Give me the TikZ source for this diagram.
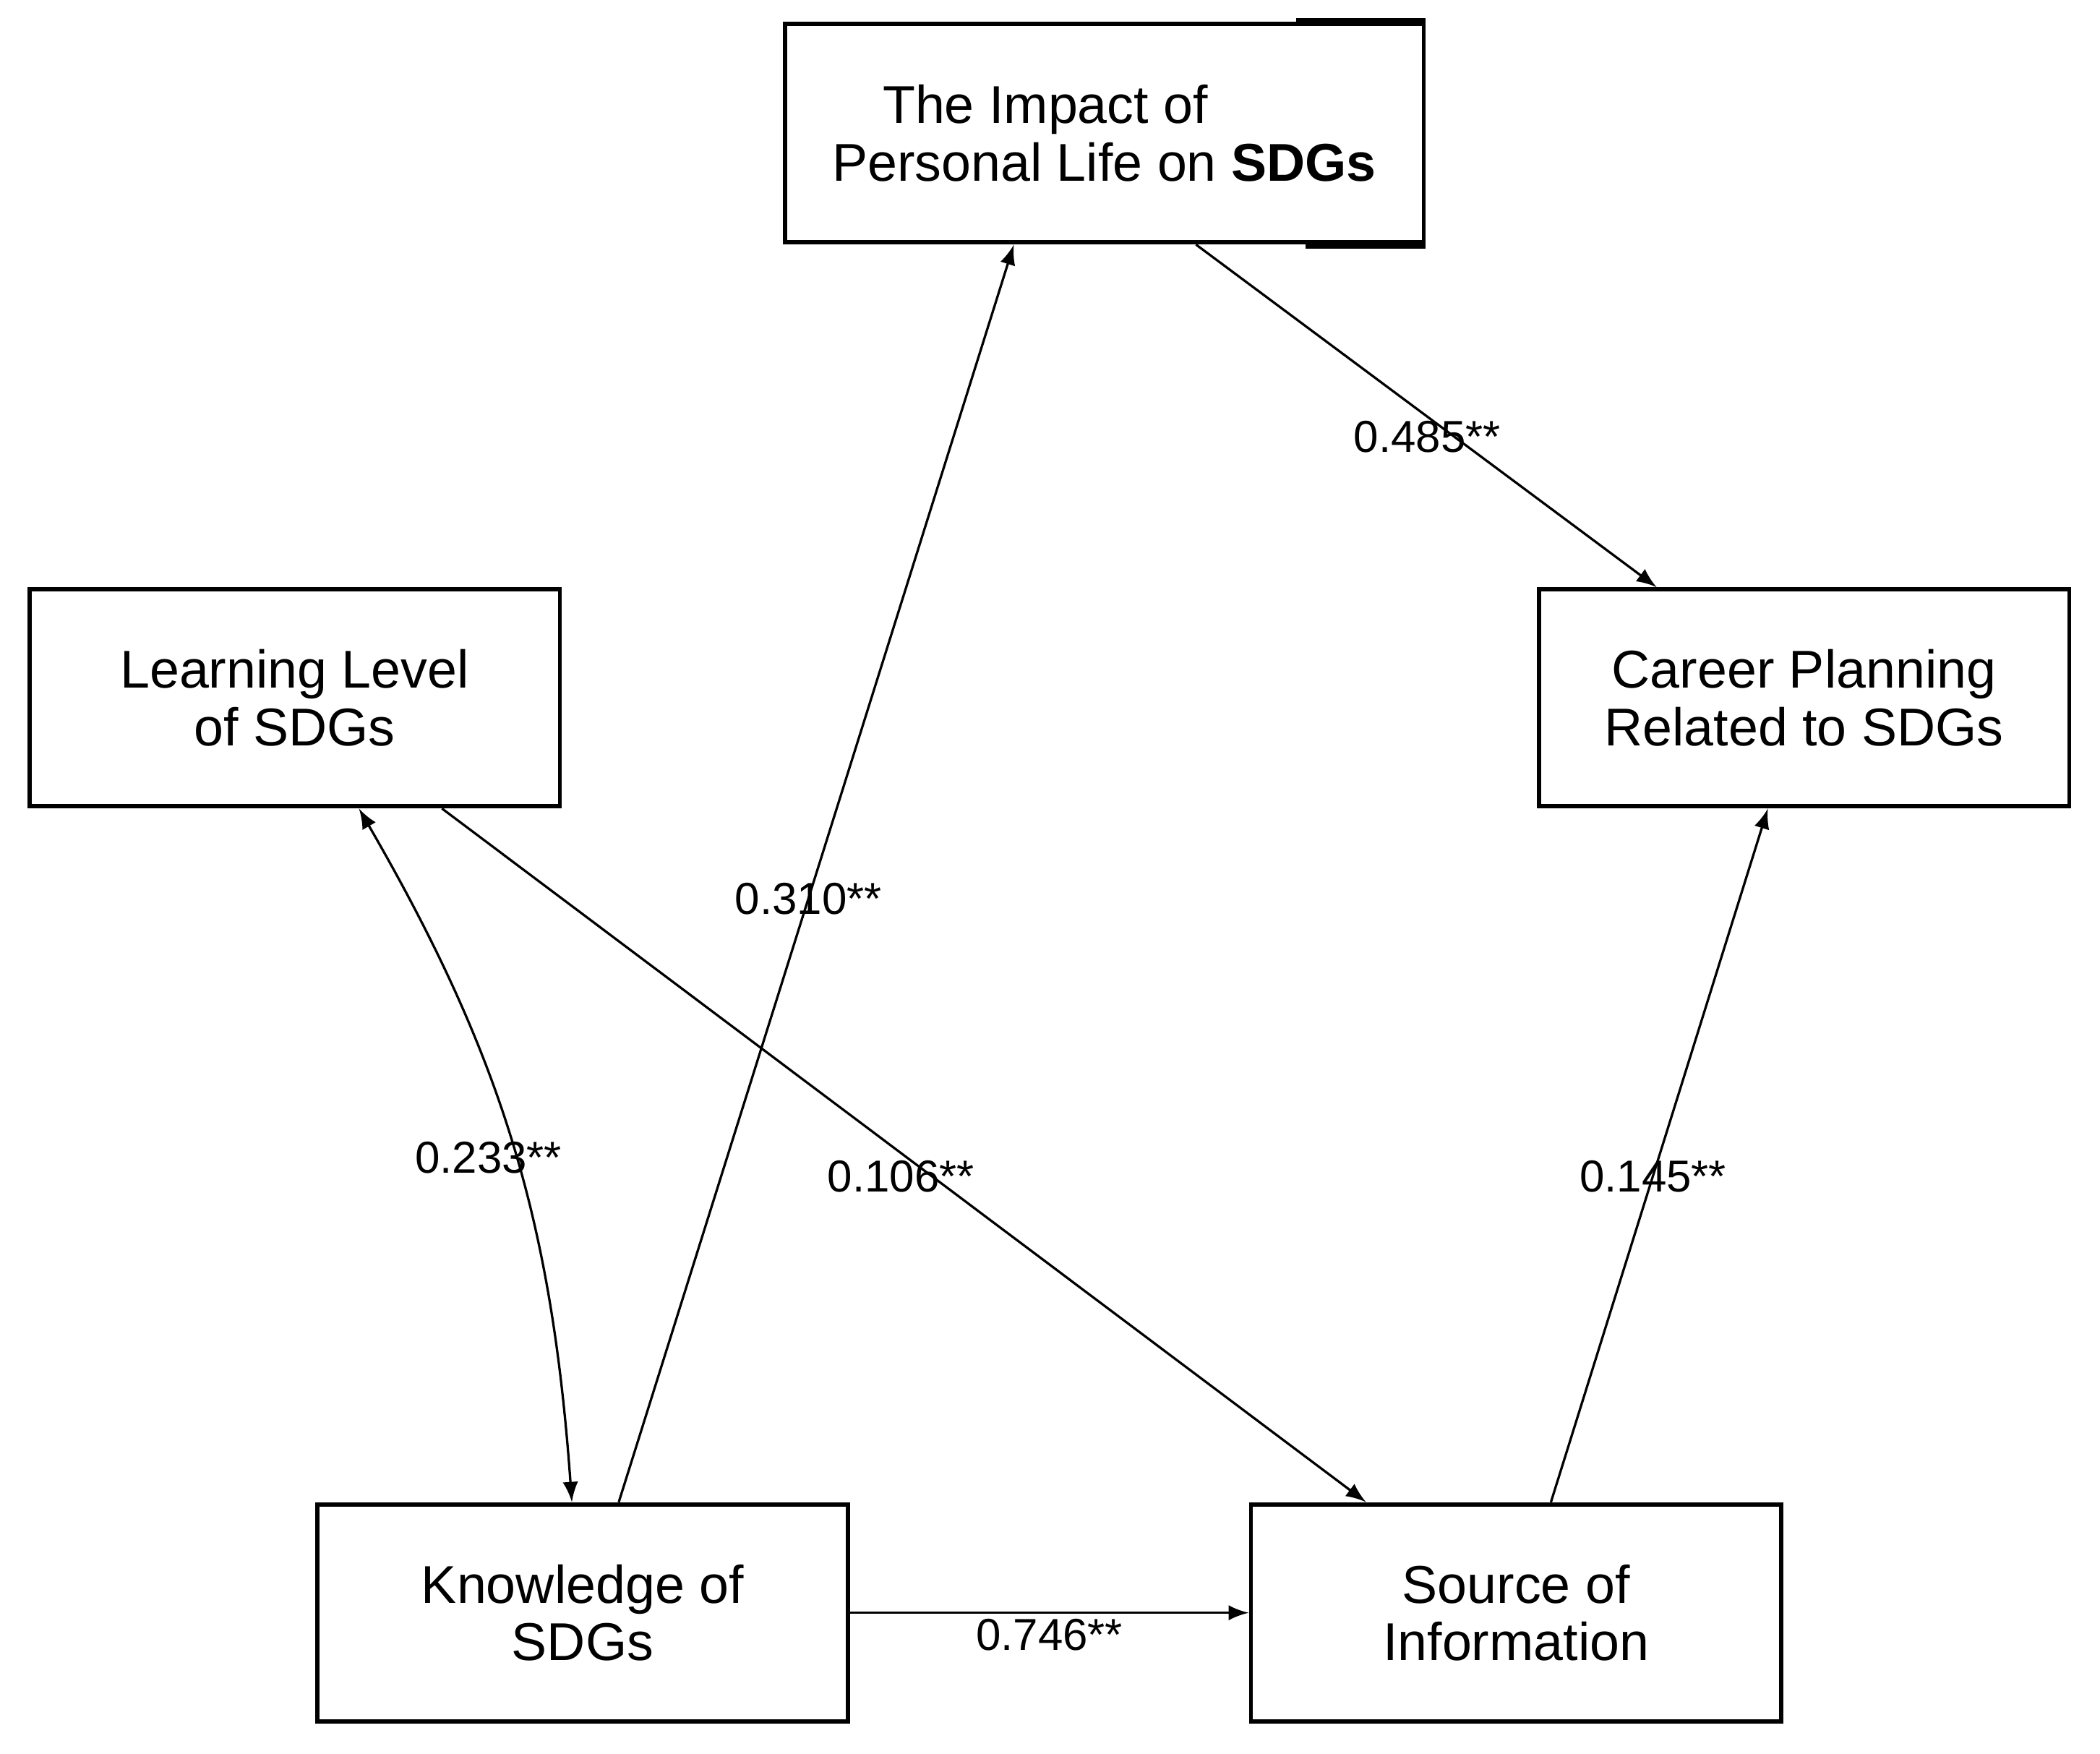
\documentclass[tikz,border=0pt]{standalone}
\usepackage{fontspec}
\setmainfont{Liberation Sans}
\usepackage{tikz}

\begin{document}
\begin{tikzpicture}[>=latex, line width=0.5pt,
    box/.style={draw, line width=0.9pt, minimum width=3.96cm, minimum height=1.62cm, align=center, font=\fontsize{11.3}{12.2}\selectfont},
    coef/.style={font=\fontsize{9.5}{11}\selectfont, inner sep=1pt}]
    \useasboundingbox (0, 0) rectangle (15.68, -13.089);
    \node[box, minimum width=4.77cm, minimum height=1.63cm] at (8.245, -0.995) (impact) {The Impact of\rule{0.88cm}{0pt}\\Personal Life on \textbf{SDGs}};
    \node[box] at (2.20, -5.21) (learn) {Learning Level\\of SDGs};
    \node[box] at (13.47, -5.21) (career) {Career Planning\\Related to SDGs};
    \node[box] at (4.35, -12.04) (know) {Knowledge of\\SDGs};
    \node[box] at (11.32, -12.04) (source) {Source of\\Information};
    % heavier ends on the top box
    \draw[line width=1.8pt] ([xshift=-0.97cm]impact.north east) -- (impact.north east);
    \draw[line width=1.8pt] ([xshift=-0.9cm]impact.south east) -- (impact.south east);
    \draw[->] ([xshift=0.27cm]know.north) -- node[coef, pos=0.48] {0.310**} ([xshift=-0.675cm]impact.south);
    \draw[->] ([xshift=0.685cm]impact.south) -- node[coef, pos=0.56, xshift=-0.2cm] {0.485**} ([xshift=-1.1cm]career.north);
    \draw[->] ([xshift=1.1cm]learn.south) -- node[coef, pos=0.53, xshift=-0.23cm] {0.106**} ([xshift=-1.12cm]source.north);
    \draw[->] ([xshift=0.26cm]source.north) -- node[coef, pos=0.47] {0.145**} ([xshift=-0.27cm]career.south);
    \draw[<->] ([xshift=0.48cm]learn.south) to[bend left=13] node[coef, xshift=-0.17cm, yshift=-0.12cm] {0.233**} ([xshift=-0.08cm]know.north);
    \draw[->] (know) -- node[coef, below] {0.746**} (source);
\end{tikzpicture}
\end{document}
